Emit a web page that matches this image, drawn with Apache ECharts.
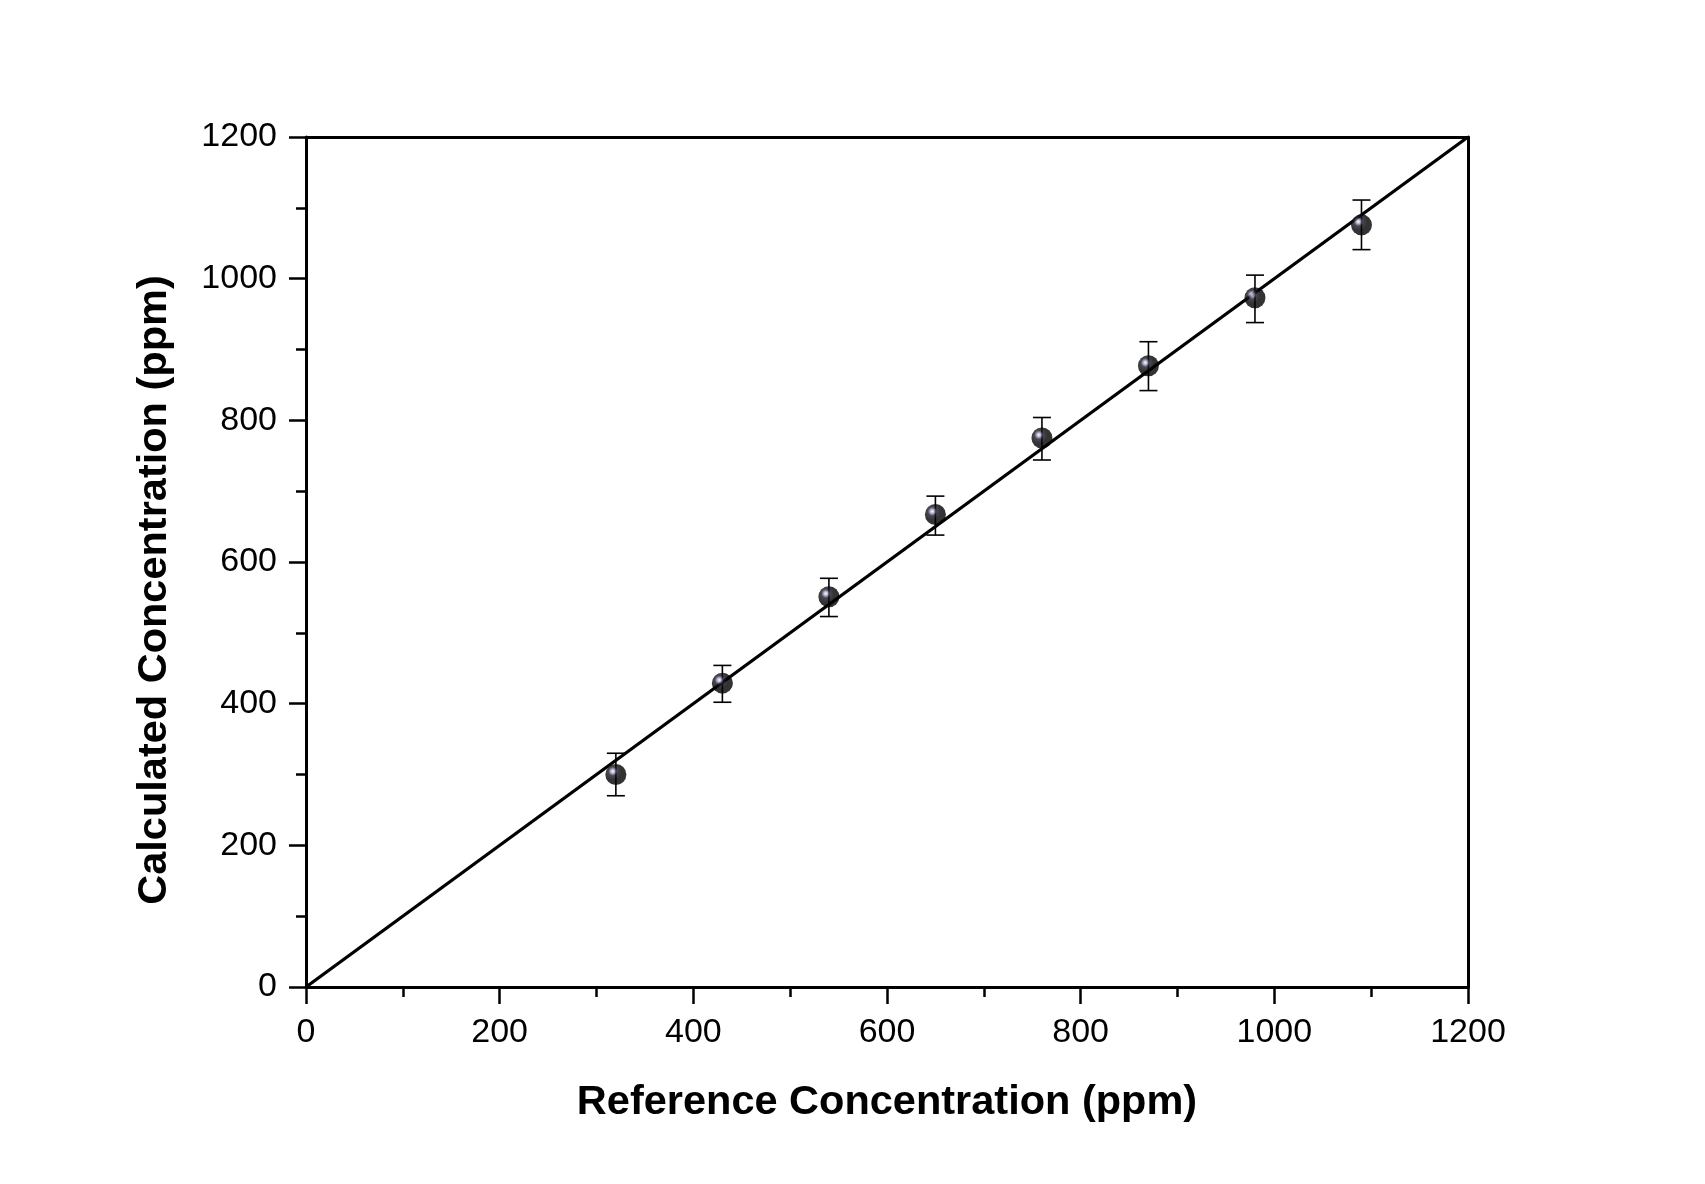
<!DOCTYPE html>
<html>
<head>
<meta charset="utf-8">
<script src="https://cdn.jsdelivr.net/npm/echarts@6/dist/echarts.min.js"></script>
<style>
html,body{margin:0;padding:0;background:#fff;}
#chart{width:1705px;height:1184px;}
</style>
</head>
<body>
<div id="chart"></div>
<script>
const referenceConc = [320, 430, 540, 650, 760, 870, 980, 1090];
const calculatedConc = [300, 429, 551, 667, 775, 877, 973, 1076];
const errUpper = [330, 454, 577, 693, 804, 911, 1005, 1111];
const errLower = [270, 402, 523, 638, 744, 842, 938, 1041];
const fitLine = [[0, 0], [1200, 1200]];
const xTitle = 'Reference Concentration (ppm)';
const yTitle = 'Calculated Concentration (ppm)';

const FONT = '"Liberation Sans", Arial, sans-serif';
const chart = echarts.init(document.getElementById('chart'), null, {renderer: 'canvas'});

const scatterData = referenceConc.map((x, i) => [x, calculatedConc[i]]);
const errData = referenceConc.map((x, i) => [x, errLower[i], errUpper[i]]);

const mainAxisCommon = {
  min: 0, max: 1200, interval: 200,
  axisLine: {show: true, onZero: false, lineStyle: {color: '#000', width: 3}},
  axisTick: {show: true, inside: false, length: 17, lineStyle: {color: '#000', width: 2.5}},
  minorTick: {show: true, splitNumber: 2, length: 10, lineStyle: {color: '#000', width: 2.5}},
  splitLine: {show: false},
  minorSplitLine: {show: false},
  axisLabel: {color: '#000', fontSize: 34, fontFamily: FONT, formatter: function (v) { return String(v); }},
  nameTextStyle: {color: '#000', fontSize: 41.5, fontWeight: 'bold', fontFamily: FONT},
  nameLocation: 'middle'
};

const borderAxis = {
  min: 0, max: 1200,
  axisLine: {show: true, onZero: false, lineStyle: {color: '#000', width: 3}},
  axisTick: {show: false}, axisLabel: {show: false}, splitLine: {show: false}
};

chart.setOption({
  backgroundColor: '#fff',
  animation: false,
  grid: {left: 306, top: 137, width: 1162, height: 850, containLabel: false},
  xAxis: [
    Object.assign({}, mainAxisCommon, {
      type: 'value', position: 'bottom', name: xTitle, nameGap: 95,
      axisLabel: Object.assign({}, mainAxisCommon.axisLabel, {margin: 29})
    }),
    Object.assign({type: 'value', position: 'top'}, borderAxis)
  ],
  yAxis: [
    Object.assign({}, mainAxisCommon, {
      type: 'value', position: 'left', name: yTitle, nameGap: 130,
      axisLabel: Object.assign({}, mainAxisCommon.axisLabel, {margin: 29}),
      nameTextStyle: Object.assign({}, mainAxisCommon.nameTextStyle, {padding: [0, 56, 0, 0]})
    }),
    Object.assign({type: 'value', position: 'right'}, borderAxis)
  ],
  series: [
    {
      type: 'custom',
      z: 2,
      data: errData,
      renderItem: function (params, api) {
        const x = api.value(0);
        const lo = api.coord([x, api.value(1)]);
        const hi = api.coord([x, api.value(2)]);
        const hw = 9;
        const style = {stroke: '#000', lineWidth: 1.6};
        return {
          type: 'group',
          children: [
            {type: 'line', shape: {x1: lo[0], y1: lo[1], x2: hi[0], y2: hi[1]}, style: style},
            {type: 'line', shape: {x1: lo[0] - hw, y1: lo[1], x2: lo[0] + hw, y2: lo[1]}, style: style},
            {type: 'line', shape: {x1: hi[0] - hw, y1: hi[1], x2: hi[0] + hw, y2: hi[1]}, style: style}
          ]
        };
      }
    },
    {
      type: 'line',
      z: 3,
      data: fitLine,
      symbol: 'none',
      lineStyle: {color: '#000', width: 3.3},
      silent: true
    },
    {
      type: 'scatter',
      z: 4,
      data: scatterData,
      symbol: 'circle',
      symbolSize: 21,
      itemStyle: {
        color: {
          type: 'radial', x: 0.35, y: 0.35, r: 0.75,
          colorStops: [
            {offset: 0, color: '#ffffff'},
            {offset: 0.12, color: '#a8a8c8'},
            {offset: 0.28, color: '#1a1a28'},
            {offset: 0.55, color: '#000'},
            {offset: 1, color: '#000'}
          ]
        }
      }
    }
  ]
});
</script>
</body>
</html>
